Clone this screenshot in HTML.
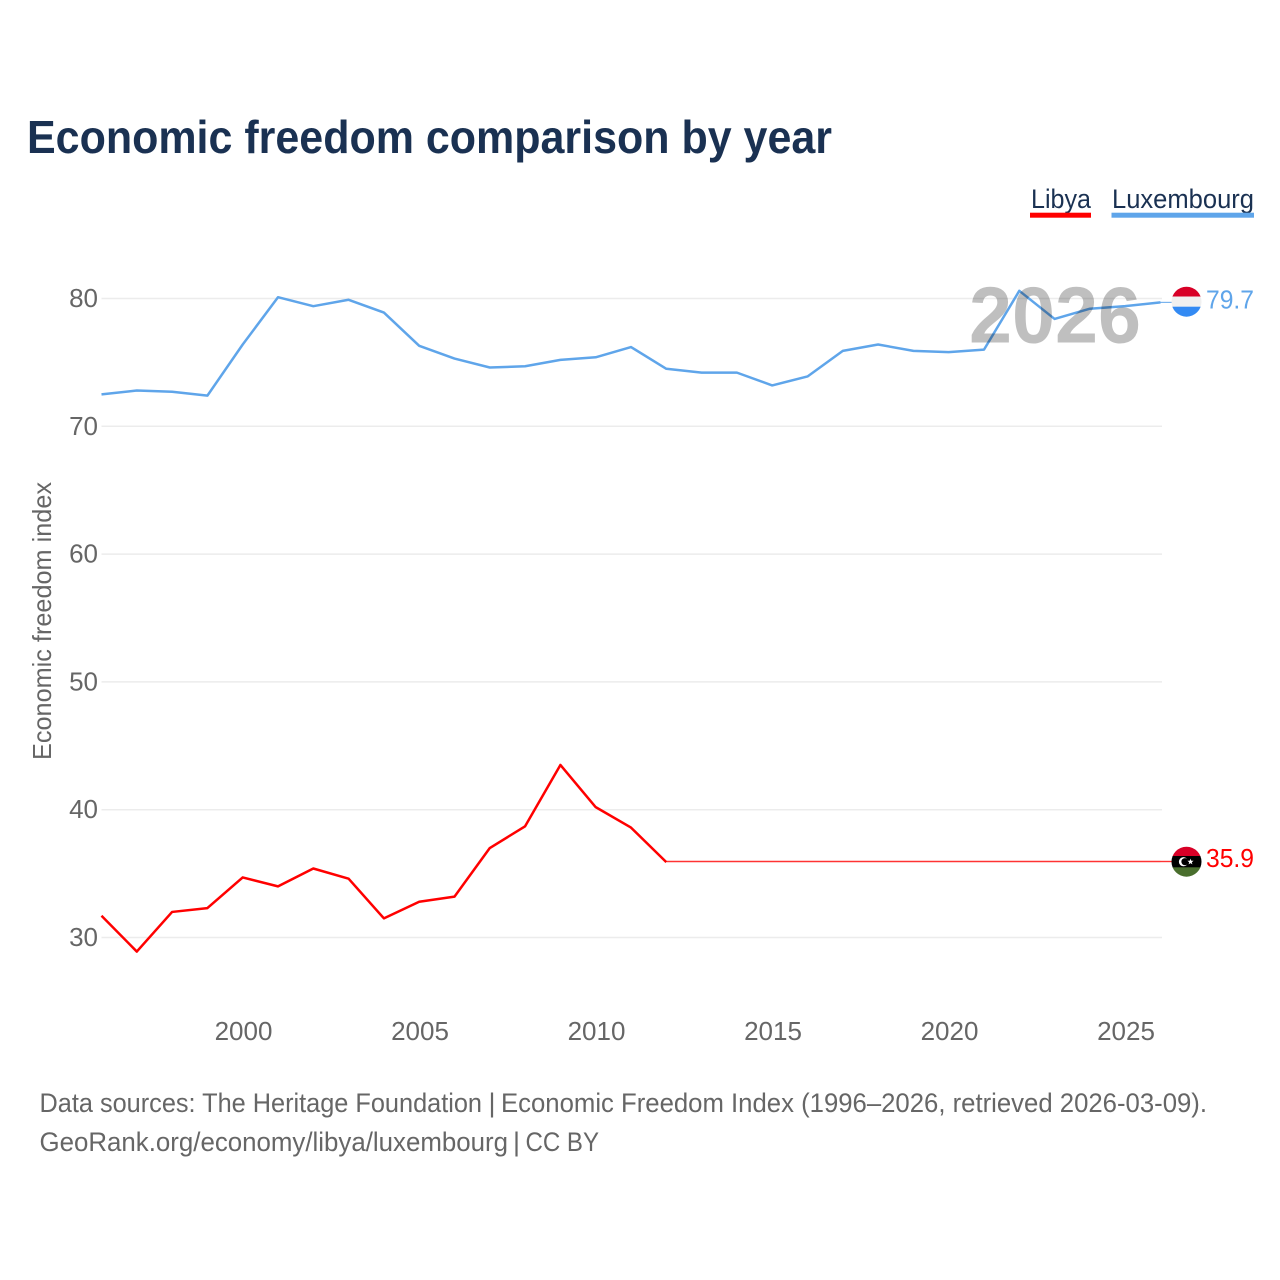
<!DOCTYPE html>
<html lang="en">
<head>
<meta charset="utf-8">
<title>Economic freedom comparison by year</title>
<style>
  html, body { margin: 0; padding: 0; background: #fff; }
  svg { display: block; font-family: "Liberation Sans", sans-serif; }
</style>
</head>
<body>
<svg id="chart" xmlns="http://www.w3.org/2000/svg" width="1280" height="1280" viewBox="0 0 1280 1280">
  <rect width="1280" height="1280" fill="#ffffff"/>
  <text x="27" y="153" font-size="46" font-weight="700" fill="#1a3152" textLength="805" lengthAdjust="spacingAndGlyphs">Economic freedom comparison by year</text>

  <g>
    <g>
      <text x="1031" y="208" font-size="27" fill="#1a3152" textLength="60" lengthAdjust="spacingAndGlyphs">Libya</text>
      <rect x="1030" y="212.7" width="61" height="5" fill="#ff0000"/>
    </g>
    <g>
      <text x="1112" y="208" font-size="27" fill="#1a3152" textLength="142" lengthAdjust="spacingAndGlyphs">Luxembourg</text>
      <rect x="1111.5" y="212.7" width="142.5" height="5" fill="#5fa5ea"/>
    </g>
  </g>

  <g id="grid"></g>
  <g id="yticks"></g>
  <g id="xticks"></g>
  <text transform="translate(51,760) rotate(-90)" font-size="26" fill="#666666" textLength="278" lengthAdjust="spacingAndGlyphs">Economic freedom index</text>

  <g id="series"></g>

  <text x="969" y="342.5" font-size="80" font-weight="700" fill="#000000" fill-opacity="0.25" textLength="172" lengthAdjust="spacingAndGlyphs">2026</text>

  <defs>
    <clipPath id="flag-clip-lux"><circle cx="1186.5" cy="301.7" r="15"/></clipPath>
    <clipPath id="flag-clip-lby"><circle cx="1186.5" cy="861.7" r="15"/></clipPath>
  </defs>
  <g clip-path="url(#flag-clip-lux)">
    <rect x="1171" y="286" width="31" height="11" fill="#d80027"/>
    <rect x="1171" y="296.5" width="31" height="10.5" fill="#f0f0f0"/>
    <rect x="1171" y="306.7" width="31" height="11" fill="#338af3"/>
  </g>
  <g clip-path="url(#flag-clip-lby)">
    <rect x="1171" y="846" width="31" height="11" fill="#d80027"/>
    <rect x="1171" y="856" width="31" height="11.5" fill="#000000"/>
    <rect x="1171" y="867.3" width="31" height="11" fill="#496e2d"/>
    <circle cx="1183.5" cy="861.7" r="4.6" fill="#ffffff"/>
    <circle cx="1185" cy="861.7" r="3.6" fill="#000000"/>
    <polygon points="1190.5,858.6 1191.3,860.8 1193.6,860.8 1191.8,862.2 1192.4,864.4 1190.5,863.1 1188.6,864.4 1189.2,862.2 1187.4,860.8 1189.7,860.8" fill="#ffffff"/>
  </g>
  <g id="endlabels"></g>

  <g>
    <text x="39.5" y="1112" font-size="27" fill="#666666" textLength="442.5" lengthAdjust="spacingAndGlyphs">Data sources: The Heritage Foundation</text>
    <text x="488.5" y="1112" font-size="27" fill="#666666">|</text>
    <text x="501" y="1112" font-size="27" fill="#666666" textLength="706" lengthAdjust="spacingAndGlyphs">Economic Freedom Index (1996–2026, retrieved 2026-03-09).</text>
    <text x="39.5" y="1151" font-size="27" fill="#666666" textLength="468.5" lengthAdjust="spacingAndGlyphs">GeoRank.org/economy/libya/luxembourg</text>
    <text x="513" y="1151" font-size="27" fill="#666666">|</text>
    <text x="525.5" y="1151" font-size="27" fill="#666666" textLength="73.5" lengthAdjust="spacingAndGlyphs">CC BY</text>
  </g>
</svg>

<script>
const years = [1996,1997,1998,1999,2000,2001,2002,2003,2004,2005,2006,2007,2008,2009,2010,2011,2012,2013,2014,2015,2016,2017,2018,2019,2020,2021,2022,2023,2024,2025,2026];
const libyaValues = [31.7,28.9,32.0,32.3,34.7,34.0,35.4,34.6,31.5,32.8,33.2,37.0,38.7,43.5,40.2,38.6,35.9,35.9,35.9,35.9,35.9,35.9,35.9,35.9,35.9,35.9,35.9,35.9,35.9,35.9,35.9];
const luxembourgValues = [72.5,72.8,72.7,72.4,76.4,80.1,79.4,79.9,78.9,76.3,75.3,74.6,74.7,75.2,75.4,76.2,74.5,74.2,74.2,73.2,73.9,75.9,76.4,75.9,75.8,76.0,80.6,78.4,79.2,79.4,79.7];
const yTicks = [30,40,50,60,70,80];
const xTicks = [2000,2005,2010,2015,2020,2025];
const libyaEndLabel = "35.9";
const luxembourgEndLabel = "79.7";

const NS = "http://www.w3.org/2000/svg";
const xMin = 1996, xMax = 2026, xLeft = 101.5, xRight = 1160.5;
const yLow = 30, yHigh = 80, yBottom = 937.5, yTop = 298.5;
function xScale(v) { return xLeft + (v - xMin) * (xRight - xLeft) / (xMax - xMin); }
function yScale(v) { return yBottom - (v - yLow) * (yBottom - yTop) / (yHigh - yLow); }

const grid = document.getElementById("grid");
const yTickGroup = document.getElementById("yticks");
const xTickGroup = document.getElementById("xticks");
const seriesGroup = document.getElementById("series");
const endLabels = document.getElementById("endlabels");

yTicks.forEach(function (t) {
  const line = document.createElementNS(NS, "line");
  
  
  line.setAttribute("x1", xLeft);
  line.setAttribute("x2", 1162);
  line.setAttribute("y1", yScale(t));
  line.setAttribute("y2", yScale(t));
  line.setAttribute("stroke", "#ececec");
  line.setAttribute("stroke-width", "1.5");
  grid.appendChild(line);

  const label = document.createElementNS(NS, "text");
  
  
  label.setAttribute("x", 98);
  label.setAttribute("y", yScale(t) + 8.5);
  label.setAttribute("text-anchor", "end");
  label.setAttribute("font-size", "26");
  label.setAttribute("fill", "#666666");
  label.textContent = t;
  yTickGroup.appendChild(label);
});

xTicks.forEach(function (t) {
  const label = document.createElementNS(NS, "text");
  
  
  label.setAttribute("x", xScale(t) + 0.8);
  label.setAttribute("y", 1040);
  label.setAttribute("text-anchor", "middle");
  label.setAttribute("font-size", "26");
  label.setAttribute("fill", "#666666");
  label.textContent = t;
  xTickGroup.appendChild(label);
});

// A flat tail (last value held constant) renders hairline-thin in the reference.
const flatNudge = -0.6;
function tailStart(values) {
  let i = values.length - 1;
  while (i > 0 && values[i - 1] === values[values.length - 1]) { i--; }
  return i;
}
function pathFor(values, from, to, nudge) {
  let d = "";
  for (let i = from; i <= to; i++) {
    d += (i === from ? "M" : " L") + xScale(years[i]).toFixed(2) + " " + (yScale(values[i]) + nudge).toFixed(2);
  }
  return d;
}

const libyaTail = tailStart(libyaValues);
const libyaLast = libyaValues.length - 1;
const libyaEndY = yScale(libyaValues[libyaLast]) + flatNudge;

const libyaLine = document.createElementNS(NS, "path");


libyaLine.setAttribute("d", pathFor(libyaValues, 0, libyaTail, 0));
libyaLine.setAttribute("fill", "none");
libyaLine.setAttribute("stroke", "#ff0000");
libyaLine.setAttribute("stroke-width", "2.5");
libyaLine.setAttribute("stroke-linejoin", "round");
seriesGroup.appendChild(libyaLine);

const libyaFlatLine = document.createElementNS(NS, "path");


libyaFlatLine.setAttribute("d", pathFor(libyaValues, libyaTail, libyaLast, flatNudge));
libyaFlatLine.setAttribute("fill", "none");
libyaFlatLine.setAttribute("stroke", "#ff0000");
libyaFlatLine.setAttribute("stroke-opacity", "0.8");
libyaFlatLine.setAttribute("stroke-width", "1.4");
seriesGroup.appendChild(libyaFlatLine);

const luxLine = document.createElementNS(NS, "path");


luxLine.setAttribute("d", pathFor(luxembourgValues, 0, luxembourgValues.length - 1, 0));
luxLine.setAttribute("fill", "none");
luxLine.setAttribute("stroke", "#5fa5ea");
luxLine.setAttribute("stroke-width", "2.5");
luxLine.setAttribute("stroke-linejoin", "round");
seriesGroup.appendChild(luxLine);

const libyaLeader = document.createElementNS(NS, "line");


libyaLeader.setAttribute("x1", xRight);
libyaLeader.setAttribute("x2", 1172);
libyaLeader.setAttribute("y1", libyaEndY);
libyaLeader.setAttribute("y2", libyaEndY);
libyaLeader.setAttribute("stroke", "#ff0000");
libyaLeader.setAttribute("stroke-opacity", "0.8");
libyaLeader.setAttribute("stroke-width", "1.4");
seriesGroup.appendChild(libyaLeader);

const luxLeader = document.createElementNS(NS, "line");


luxLeader.setAttribute("x1", xRight);
luxLeader.setAttribute("x2", 1172);
luxLeader.setAttribute("y1", yScale(luxembourgValues[luxembourgValues.length - 1]));
luxLeader.setAttribute("y2", yScale(luxembourgValues[luxembourgValues.length - 1]));
luxLeader.setAttribute("stroke", "#5fa5ea");
luxLeader.setAttribute("stroke-width", "1");
seriesGroup.appendChild(luxLeader);

const libyaValueLabel = document.createElementNS(NS, "text");


libyaValueLabel.setAttribute("x", 1206);
libyaValueLabel.setAttribute("y", yScale(libyaValues[libyaLast]) + 5);
libyaValueLabel.setAttribute("font-size", "26");
libyaValueLabel.setAttribute("fill", "#ff0000");
libyaValueLabel.setAttribute("textLength", "48");
libyaValueLabel.setAttribute("lengthAdjust", "spacingAndGlyphs");
libyaValueLabel.textContent = libyaEndLabel;
endLabels.appendChild(libyaValueLabel);

const luxValueLabel = document.createElementNS(NS, "text");


luxValueLabel.setAttribute("x", 1206);
luxValueLabel.setAttribute("y", yScale(luxembourgValues[luxembourgValues.length - 1]) + 6);
luxValueLabel.setAttribute("font-size", "26");
luxValueLabel.setAttribute("fill", "#5fa5ea");
luxValueLabel.setAttribute("textLength", "48");
luxValueLabel.setAttribute("lengthAdjust", "spacingAndGlyphs");
luxValueLabel.textContent = luxembourgEndLabel;
endLabels.appendChild(luxValueLabel);
</script>
</body>
</html>
